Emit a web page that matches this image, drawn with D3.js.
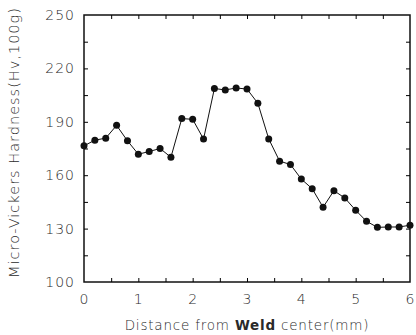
<!DOCTYPE html>
<html>
<head>
<meta charset="utf-8">
<script src="https://cdn.jsdelivr.net/npm/d3@7"></script>
<style>
  body { margin: 0; background: #fff; }
  text { font-family: "DejaVu Sans", sans-serif; fill: #2a2a2a; font-weight: 300; }
</style>
</head>
<body>
<div id="chart"></div>
<script>
// distance from weld center (mm)
const distance = [0, 0.2, 0.4, 0.6, 0.8, 1.0, 1.2, 1.4, 1.6, 1.8, 2.0, 2.2, 2.4, 2.6, 2.8, 3.0,
  3.2, 3.4, 3.6, 3.8, 4.0, 4.2, 4.4, 4.6, 4.8, 5.0, 5.2, 5.4, 5.6, 5.8, 6.0];
// micro-vickers hardness
const hardness = [176.5, 179.7, 180.8, 188, 179.3, 171.8, 173.3, 175, 170.1, 191.8, 191.4, 180.3,
  208.7, 207.9, 209, 208.4, 200.4, 180.4, 167.9, 166, 157.8, 152.4, 142, 151.3, 147.2, 140.3,
  134.1, 130.7, 130.9, 130.9, 131.9];
const xTicks = [0, 1, 2, 3, 4, 5, 6];
const yTicks = [100, 130, 160, 190, 220, 250];

const width = 416, height = 335;
const margin = {left: 84, right: 6, top: 15, bottom: 53};

const svg = d3.select('#chart')
    .append('svg')
    .attr('width', width)
    .attr('height', height);

const x = d3.scaleLinear().domain([0, 6]).range([margin.left, width - margin.right]);
const y = d3.scaleLinear().domain([100, 250]).range([height - margin.bottom, margin.top]);

// Рамка
svg.append('rect')
    .attr('x', x(0))
    .attr('y', y(250))
    .attr('width', x(6) - x(0))
    .attr('height', y(100) - y(250))
    .attr('fill', 'none')
    .attr('stroke', '#111')
    .attr('stroke-width', 1.5);

// Засечки внутрь
const minorX = d3.range(0.5, 6, 0.5);
const minorY = d3.range(115, 250, 15);

svg.append('g')
    .attr('transform', `translate(0,${y(100)})`)
    .call(d3.axisBottom(x).tickValues(minorX).tickSize(-4).tickFormat(''))
    .call(g => g.select('.domain').remove());
svg.append('g')
    .attr('transform', `translate(0,${y(250)})`)
    .call(d3.axisTop(x).tickValues(minorX).tickSize(-4).tickFormat(''))
    .call(g => g.select('.domain').remove());
svg.append('g')
    .attr('transform', `translate(${x(0)},0)`)
    .call(d3.axisLeft(y).tickValues(minorY).tickSize(-4).tickFormat(''))
    .call(g => g.select('.domain').remove());
svg.append('g')
    .attr('transform', `translate(${x(6)},0)`)
    .call(d3.axisRight(y).tickValues(minorY).tickSize(-4).tickFormat(''))
    .call(g => g.select('.domain').remove());

// Подписи осей
svg.append('g')
    .selectAll('text')
    .data(xTicks)
    .join('text')
    .attr('x', d => x(d))
    .attr('y', y(100) + 22)
    .attr('text-anchor', 'middle')
    .style('font-size', '14px')
    .text(d => d);

svg.append('g')
    .selectAll('text')
    .data(yTicks)
    .join('text')
    .attr('x', x(0) - 9)
    .attr('y', d => y(d))
    .attr('dy', '0.35em')
    .attr('text-anchor', 'end')
    .style('font-size', '14px')
    .style('letter-spacing', '1px')
    .text(d => d);

const xt = svg.append('text')
    .attr('x', (x(0) + x(6)) / 2)
    .attr('y', 330)
    .attr('text-anchor', 'middle')
    .style('font-size', '13.5px')
    .style('letter-spacing', '0.8px');
xt.append('tspan').text('Distance from ');
xt.append('tspan').style('font-weight', 'bold').text('Weld');
xt.append('tspan').text(' center(mm)');

svg.append('text')
    .attr('transform', `translate(19,${(y(100) + y(250)) / 2 - 6}) rotate(-90)`)
    .attr('text-anchor', 'middle')
    .style('font-size', '14.5px')
    .style('letter-spacing', '1px')
    .text('Micro-Vickers Hardness(Hv,100g)');

// Линия и точки
const pts = distance.map((d, i) => ({d, v: hardness[i]}));

svg.append('path')
    .datum(pts)
    .attr('fill', 'none')
    .attr('stroke', '#111')
    .attr('stroke-width', 1)
    .attr('d', d3.line().x(p => x(p.d)).y(p => y(p.v)));

svg.append('g')
    .selectAll('circle')
    .data(pts)
    .join('circle')
    .attr('cx', p => x(p.d))
    .attr('cy', p => y(p.v))
    .attr('r', 3.5)
    .attr('fill', '#111');
</script>
</body>
</html>
